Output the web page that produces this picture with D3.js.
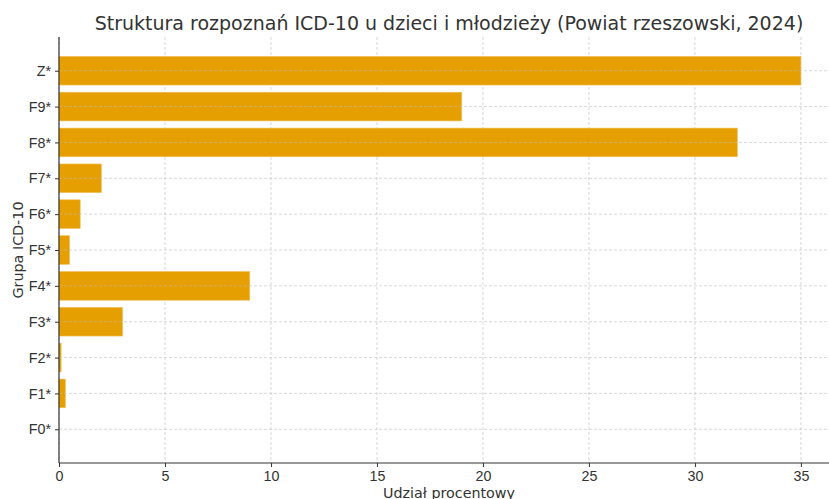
<!DOCTYPE html>
<html>
<head>
<meta charset="utf-8">
<script src="https://cdn.jsdelivr.net/npm/d3@7"></script>
<style>
  body { margin: 0; background: #fff; }
  svg { font-family: "DejaVu Sans", sans-serif; }
</style>
</head>
<body>
<div class="chart"></div>
<script>
// data
const categories = ['F0*', 'F1*', 'F2*', 'F3*', 'F4*', 'F5*', 'F6*', 'F7*', 'F8*', 'F9*', 'Z*'];
const shares = [0, 0.3, 0.1, 3, 9, 0.5, 1, 2, 32, 19, 35];
const xTicks = [0, 5, 10, 15, 20, 25, 30, 35];

const width = 829, height = 499;
const plot = { left: 59, right: 838, top: 37, bottom: 463 };

const svg = d3.select('.chart').append('svg')
    .attr('width', width)
    .attr('height', height);

const xScale = d3.scaleLinear().domain([0, 36.75]).range([plot.left, plot.right]);
const yScale = d3.scaleLinear().domain([-0.94, 10.94]).range([plot.bottom, plot.top]);
const barH = yScale(0) - yScale(0.8);

// vertical grid (under bars)
svg.append('g').selectAll('line')
    .data(xTicks).enter()
    .append('line')
    .attr('x1', d => xScale(d)).attr('x2', d => xScale(d))
    .attr('y1', plot.top).attr('y2', plot.bottom)
    .attr('stroke', '#cccccc')
    .attr('stroke-width', 0.8)
    .attr('stroke-dasharray', '3,2');

svg.append('g').selectAll('rect')
    .data(shares).enter()
    .append('rect')
    .attr('x', xScale(0))
    .attr('y', (d, i) => yScale(i) - barH / 2)
    .attr('width', d => xScale(d) - xScale(0))
    .attr('height', barH)
    .attr('fill', '#E69F00')
    .attr('stroke', '#f0c060')
    .attr('stroke-width', 0.6);

// horizontal grid (over bars, faint)
svg.append('g').selectAll('line')
    .data(categories).enter()
    .append('line')
    .attr('x1', plot.left).attr('x2', plot.right)
    .attr('y1', (d, i) => yScale(i)).attr('y2', (d, i) => yScale(i))
    .attr('stroke', '#bbbbbb')
    .attr('stroke-opacity', 0.7)
    .attr('stroke-width', 0.8)
    .attr('stroke-dasharray', '3,2');

const xAxis = svg.append('g')
    .attr('transform', `translate(0, ${plot.bottom})`)
    .call(d3.axisBottom(xScale).tickValues(xTicks).tickSize(4).tickPadding(4).tickFormat(d3.format('d')));

const yAxis = svg.append('g')
    .attr('transform', `translate(${plot.left}, 0)`)
    .call(d3.axisLeft(yScale).tickValues(d3.range(categories.length)).tickSize(4).tickPadding(4)
        .tickFormat(i => categories[i]));

[xAxis, yAxis].forEach(a => {
    a.select('.domain').attr('stroke', '#333').attr('stroke-width', 1.2);
    a.selectAll('.tick line').attr('stroke', '#333');
    a.selectAll('.tick text').attr('fill', '#333').style('font-size', '14.3px');
});
xAxis.select('.domain').attr('d', `M${plot.left},0H${plot.right}`);
yAxis.select('.domain').attr('d', `M0,${plot.bottom}V${plot.top}`);

svg.append('text')
    .attr('x', 449)
    .attr('y', 30)
    .attr('text-anchor', 'middle')
    .attr('fill', '#333')
    .style('font-size', '19px')
    .text('Struktura rozpoznań ICD-10 u dzieci i młodzieży (Powiat rzeszowski, 2024)');

svg.append('text')
    .attr('x', 449)
    .attr('y', 498)
    .attr('text-anchor', 'middle')
    .attr('fill', '#333')
    .style('font-size', '14.3px')
    .text('Udział procentowy');

svg.append('text')
    .attr('transform', `translate(23, ${(plot.top + plot.bottom) / 2}) rotate(-90)`)
    .attr('text-anchor', 'middle')
    .attr('fill', '#333')
    .style('font-size', '14.3px')
    .text('Grupa ICD-10');
</script>
</body>
</html>
